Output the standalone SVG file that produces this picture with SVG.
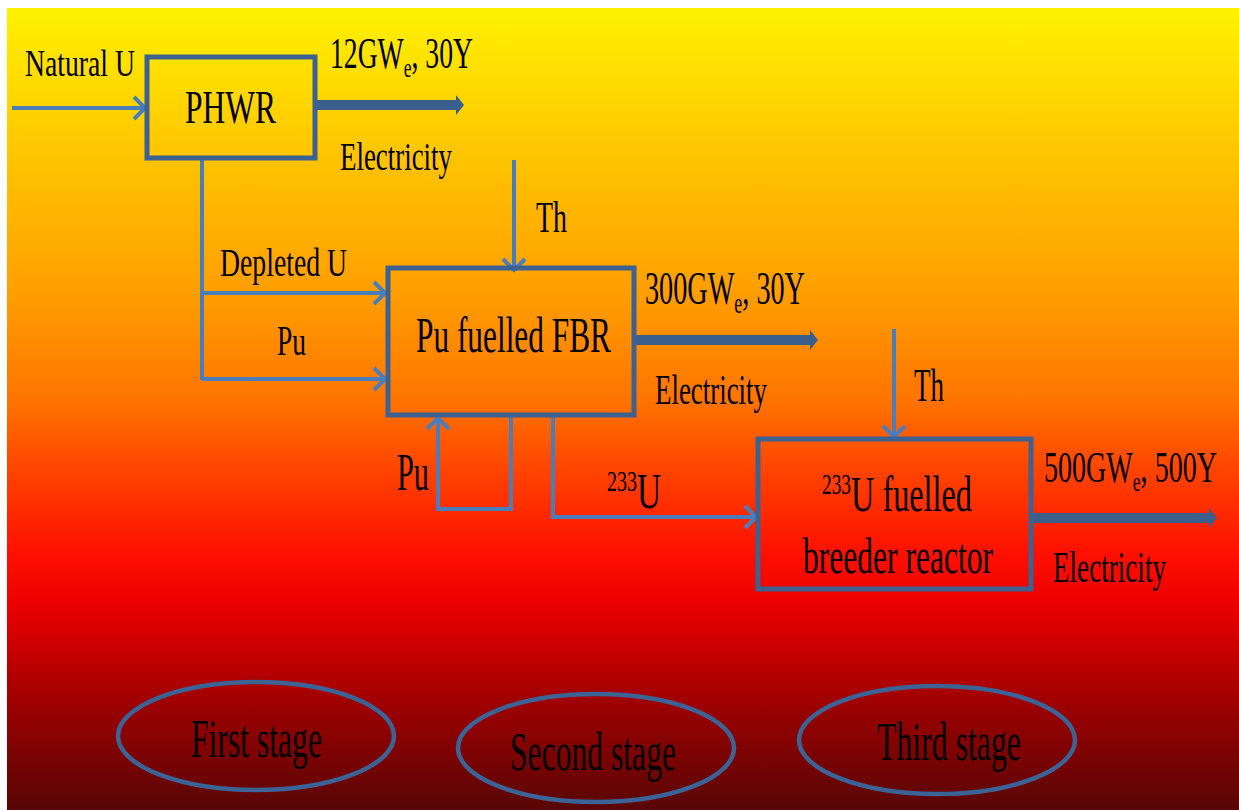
<svg xmlns="http://www.w3.org/2000/svg" width="1239" height="810" viewBox="0 0 1239 810">
<defs>
<linearGradient id="bg" x1="0" y1="0" x2="0" y2="1">
<stop offset="0" stop-color="#FFF200"/>
<stop offset="0.177" stop-color="#FFC600"/>
<stop offset="0.364" stop-color="#FF9C00"/>
<stop offset="0.489" stop-color="#FF7400"/>
<stop offset="0.576" stop-color="#FF4400"/>
<stop offset="0.676" stop-color="#FF1200"/>
<stop offset="0.74" stop-color="#EE0000"/>
<stop offset="0.863" stop-color="#A00000"/>
<stop offset="1" stop-color="#580606"/>
</linearGradient>
<marker id="chev" markerUnits="userSpaceOnUse" markerWidth="30" markerHeight="30" viewBox="-15 -15 30 30" refX="0" refY="0" orient="auto">
<path d="M-11,-11 L0,0 L-11,11" fill="none" stroke="#4A7EBB" stroke-width="4" stroke-linejoin="miter"/>
</marker>
<marker id="thick" markerUnits="userSpaceOnUse" markerWidth="20" markerHeight="30" viewBox="0 -15 20 30" refX="0" refY="0" orient="auto">
<path d="M0,-10 L8,0 L0,10 Z" fill="#3A5F8D"/>
</marker>
</defs>
<style>
.box{fill:none;stroke:#3D6190;stroke-width:5}
.con{fill:none;stroke:#4A7EBB;stroke-width:4}
.arr{marker-end:url(#chev)}
.big{fill:none;stroke:#3A5F8D;stroke-width:10;marker-end:url(#thick)}
.stage{fill:none;stroke:#3B6396;stroke-width:4.5}
text{font-family:"Liberation Serif","Times New Roman",serif;fill:#000}
</style>
<rect x="0" y="0" width="1239" height="810" fill="#FFFFFF"/>
<rect x="7" y="8" width="1232" height="802" fill="url(#bg)"/>

<g id="connectors">
<path class="con arr" d="M12,108 H145"/>
<path class="con" d="M202,158 V380"/>
<path class="con arr" d="M202,293 H385"/>
<path class="con arr" d="M202,379 H385"/>
<path class="con arr" d="M514,160 V270"/>
<path class="con arr" d="M511,416 V509 H438 V418"/>
<path class="con arr" d="M553,416 V517 H756"/>
<path class="con arr" d="M894,329 V437"/>
<path class="big" d="M316,105 H456"/>
<path class="big" d="M636,340 H810"/>
<path class="big" d="M1033,518 H1209"/>
</g>

<g id="labels">
<text x="25" y="76" font-size="38" textLength="110" lengthAdjust="spacingAndGlyphs">Natural U</text>
<text x="330" y="68" font-size="44" textLength="143" lengthAdjust="spacingAndGlyphs">12GW<tspan font-size="28" dy="9">e</tspan><tspan dy="-9">, 30Y</tspan></text>
<text x="340" y="170" font-size="41" textLength="112" lengthAdjust="spacingAndGlyphs">Electricity</text>
<text x="220" y="276" font-size="41" textLength="127" lengthAdjust="spacingAndGlyphs">Depleted  U</text>
<text x="277" y="355" font-size="42" textLength="29" lengthAdjust="spacingAndGlyphs">Pu</text>
<text x="536" y="232" font-size="44" textLength="31" lengthAdjust="spacingAndGlyphs">Th</text>
<text x="645" y="304" font-size="46" textLength="160" lengthAdjust="spacingAndGlyphs">300GW<tspan font-size="29" dy="9">e</tspan><tspan dy="-9">, 30Y</tspan></text>
<text x="655" y="404" font-size="43" textLength="112" lengthAdjust="spacingAndGlyphs">Electricity</text>
<text x="397" y="490" font-size="52" textLength="32" lengthAdjust="spacingAndGlyphs">Pu</text>
<text x="607" y="508" font-size="50" textLength="54" lengthAdjust="spacingAndGlyphs"><tspan font-size="30" dy="-17">233</tspan><tspan dy="17">U</tspan></text>
<text x="914" y="401" font-size="46" textLength="30" lengthAdjust="spacingAndGlyphs">Th</text>
<text x="1044" y="482" font-size="45" textLength="173" lengthAdjust="spacingAndGlyphs">500GW<tspan font-size="28" dy="9">e</tspan><tspan dy="-9">, 500Y</tspan></text>
<text x="1053" y="582" font-size="44" textLength="113" lengthAdjust="spacingAndGlyphs">Electricity</text>
</g>

<g id="phwr">
<rect class="box" x="147" y="57" width="168" height="101"/>
<text x="185" y="123" font-size="47" textLength="91" lengthAdjust="spacingAndGlyphs">PHWR</text>
</g>

<g id="fbr">
<rect class="box" x="388" y="268" width="246" height="147"/>
<text x="416" y="352" font-size="50" textLength="195" lengthAdjust="spacingAndGlyphs">Pu fuelled FBR</text>
</g>

<g id="breeder">
<rect class="box" x="758" y="439" width="273" height="150"/>
<text x="822" y="511" font-size="50" textLength="150" lengthAdjust="spacingAndGlyphs"><tspan font-size="30" dy="-17">233</tspan><tspan dy="17">U fuelled</tspan></text>
<text x="803" y="573" font-size="50" textLength="190" lengthAdjust="spacingAndGlyphs">breeder reactor</text>
</g>

<g id="stage1">
<ellipse class="stage" cx="256" cy="736" rx="138" ry="54"/>
<text x="191" y="757" font-size="54" textLength="131" lengthAdjust="spacingAndGlyphs">First stage</text>
</g>
<g id="stage2">
<ellipse class="stage" cx="596" cy="748" rx="138" ry="54"/>
<text x="510" y="770" font-size="54" textLength="166" lengthAdjust="spacingAndGlyphs">Second stage</text>
</g>
<g id="stage3">
<ellipse class="stage" cx="937" cy="740" rx="138" ry="54"/>
<text x="877" y="760" font-size="54" textLength="144" lengthAdjust="spacingAndGlyphs">Third stage</text>
</g>
</svg>
